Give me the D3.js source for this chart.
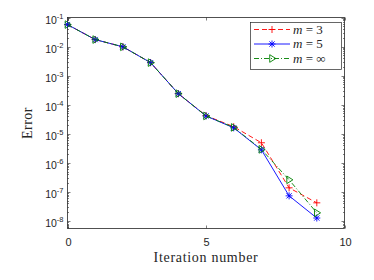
<!DOCTYPE html>
<html>
<head>
<meta charset="utf-8">
<script src="https://cdn.jsdelivr.net/npm/d3@7"></script>
<style>
  html, body { margin: 0; padding: 0; background: #fff; }
  svg { display: block; }
</style>
</head>
<body>
<svg id="chart" width="374" height="280"></svg>
<script>
// datos
const iterations = [0, 1, 2, 3, 4, 5, 6, 7, 8, 9];
const errM3  = [5.7e-2, 1.74e-2, 9.8e-3, 2.8e-3, 2.4e-4, 4.2e-5, 1.75e-5, 4.9e-6, 1.38e-7, 4.2e-8];
const errM5  = [5.7e-2, 1.74e-2, 9.8e-3, 2.8e-3, 2.4e-4, 4.1e-5, 1.6e-5, 2.8e-6, 7.3e-8, 1.26e-8];
const errInf = [5.7e-2, 1.74e-2, 9.8e-3, 2.8e-3, 2.4e-4, 4.1e-5, 1.65e-5, 2.9e-6, 2.6e-7, 1.9e-8];
const xTicks = [0, 5, 10];
const yExponents = [-1, -2, -3, -4, -5, -6, -7, -8];
const legendLabels = ["3", "5", "\u221E"];

const svg = d3.select('#chart');
const pL = 67.5, pR = 344.5, pT = 17.5, pB = 228.5;
const axisColor = '#262626';
const sansFont = "'Liberation Sans', Arial, sans-serif";
const serifFont = "'Liberation Serif', 'Times New Roman', serif";

const x = d3.scaleLinear().domain([0, 10]).range([pL, pR]);
const y = d3.scaleLog().domain([Math.pow(10, -8.26), 0.1]).range([pB, pT]);

// ejes (caja)
const axes = svg.append('g');

// marcas menores log
const minor = [];
for (let e = -9; e <= -2; e++) {
    for (let k = 2; k <= 9; k++) {
        const v = k * Math.pow(10, e);
        if (v >= y.domain()[0] && v <= 0.1) minor.push(v);
    }
}
minor.forEach(v => {
    const yy = Math.round(y(v)) + 0.5;
    axes.append('line').attr('x1', pL).attr('x2', pL + 1.5).attr('y1', yy).attr('y2', yy)
        .attr('stroke', axisColor).attr('stroke-width', 0.6);
    axes.append('line').attr('x1', pR).attr('x2', pR - 1.5).attr('y1', yy).attr('y2', yy)
        .attr('stroke', axisColor).attr('stroke-width', 0.6);
});
yExponents.forEach(e => {
    const yy = Math.round(y(Math.pow(10, e))) + 0.5;
    axes.append('line').attr('x1', pL).attr('x2', pL + 3).attr('y1', yy).attr('y2', yy)
        .attr('stroke', axisColor).attr('stroke-width', 0.6);
    axes.append('line').attr('x1', pR).attr('x2', pR - 3).attr('y1', yy).attr('y2', yy)
        .attr('stroke', axisColor).attr('stroke-width', 0.6);
    const t = axes.append('text')
        .attr('x', pL - 4).attr('y', yy + 5.5)
        .attr('text-anchor', 'end')
        .attr('font-family', sansFont)
        .attr('font-size', '10.5px')
        .attr('fill', axisColor);
    t.append('tspan').text('10');
    t.append('tspan').attr('dy', -5).attr('font-size', '7.5px').text(String(e));
});

xTicks.forEach(v => {
    const xx = Math.round(x(v)) + 0.5;
    axes.append('line').attr('x1', xx).attr('x2', xx).attr('y1', pB).attr('y2', pB - 3)
        .attr('stroke', axisColor).attr('stroke-width', 0.6);
    axes.append('line').attr('x1', xx).attr('x2', xx).attr('y1', pT).attr('y2', pT + 3)
        .attr('stroke', axisColor).attr('stroke-width', 0.6);
    axes.append('text')
        .attr('x', xx).attr('y', pB + 17)
        .attr('text-anchor', 'middle')
        .attr('font-family', sansFont)
        .attr('font-size', '11px')
        .attr('fill', axisColor)
        .text(v);
});

axes.append('rect')
    .attr('x', pL).attr('y', pT)
    .attr('width', pR - pL).attr('height', pB - pT)
    .attr('fill', 'none').attr('stroke', axisColor).attr('stroke-width', 0.8);

// etiquetas de ejes
svg.append('text')
    .attr('x', (pL + pR) / 2).attr('y', 262)
    .attr('text-anchor', 'middle')
    .attr('font-family', serifFont)
    .attr('font-size', '14px')
    .attr('letter-spacing', '0.7px')
    .attr('fill', axisColor)
    .text('Iteration number');

svg.append('text')
    .attr('transform', 'translate(32,' + ((pT + pB) / 2) + ') rotate(-90)')
    .attr('text-anchor', 'middle')
    .attr('font-family', serifFont)
    .attr('font-size', '14px')
    .attr('letter-spacing', '0.5px')
    .attr('fill', axisColor)
    .text('Error');

// series
const series = [
    { values: errM3, color: '#ff0000', dash: '5,3', marker: 'plus' },
    { values: errM5, color: '#0000ff', dash: null, marker: 'star' },
    { values: errInf, color: '#008000', dash: '5,2,1,2', marker: 'tri' }
];

const line = d3.line().x(d => x(d[0])).y(d => y(d[1]));

function drawMarker(g, type, cx, cy, color) {
    const s = 3.5;
    if (type === 'plus' || type === 'star') {
        g.append('line').attr('x1', cx - s).attr('x2', cx + s).attr('y1', cy).attr('y2', cy)
            .attr('stroke', color).attr('stroke-width', 0.9);
        g.append('line').attr('x1', cx).attr('x2', cx).attr('y1', cy - s).attr('y2', cy + s)
            .attr('stroke', color).attr('stroke-width', 0.9);
    }
    if (type === 'star') {
        const d = s * 0.75;
        g.append('line').attr('x1', cx - d).attr('x2', cx + d).attr('y1', cy - d).attr('y2', cy + d)
            .attr('stroke', color).attr('stroke-width', 0.9);
        g.append('line').attr('x1', cx - d).attr('x2', cx + d).attr('y1', cy + d).attr('y2', cy - d)
            .attr('stroke', color).attr('stroke-width', 0.9);
    }
    if (type === 'tri') {
        const r = 3.8;
        g.append('path')
            .attr('d', `M${cx + r},${cy} L${cx - r * 0.6},${cy - r} L${cx - r * 0.6},${cy + r} Z`)
            .attr('fill', 'none').attr('stroke', color).attr('stroke-width', 0.9);
    }
}

series.forEach(s => {
    const pts = iterations.map((it, i) => [it, s.values[i]]);
    const g = svg.append('g');
    g.append('path')
        .datum(pts)
        .attr('d', line)
        .attr('fill', 'none')
        .attr('stroke', s.color)
        .attr('stroke-width', 0.9)
        .attr('stroke-dasharray', s.dash);
    pts.forEach(p => drawMarker(g, s.marker, x(p[0]), y(p[1]), s.color));
});

// leyenda
const leg = svg.append('g');
leg.append('rect')
    .attr('x', 250.5).attr('y', 22.5).attr('width', 91).attr('height', 47)
    .attr('fill', '#fff').attr('stroke', axisColor).attr('stroke-width', 0.7);

series.forEach((s, i) => {
    const yy = 29.5 + i * 14.5;
    leg.append('line')
        .attr('x1', 254).attr('x2', 290).attr('y1', yy).attr('y2', yy)
        .attr('stroke', s.color).attr('stroke-width', 0.9)
        .attr('stroke-dasharray', s.dash);
    drawMarker(leg, s.marker, 272, yy, s.color);
    const t = leg.append('text')
        .attr('x', 293).attr('y', yy + 4)
        .attr('font-family', serifFont)
        .attr('font-size', '13px')
        .attr('fill', axisColor);
    t.append('tspan').attr('font-style', 'italic').text('m');
    t.append('tspan').text(' = ' + legendLabels[i]);
});
</script>
</body>
</html>
